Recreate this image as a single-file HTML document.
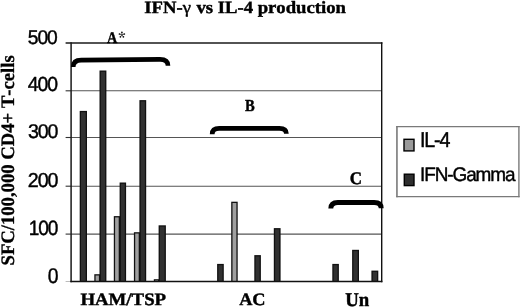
<!DOCTYPE html><html><head><meta charset="utf-8"><style>html,body{margin:0;padding:0;background:#fff;width:520px;height:307px;overflow:hidden}svg{display:block;filter:grayscale(1)}text{text-rendering:geometricPrecision;font-kerning:none;font-variant-ligatures:none}</style></head><body><svg width="520" height="307" viewBox="0 0 520 307"><rect width="520" height="307" fill="#fff"/><line x1="71.0" y1="234.10" x2="381.8" y2="234.10" stroke="#555" stroke-width="1.05"/><line x1="71.0" y1="186.20" x2="381.8" y2="186.20" stroke="#555" stroke-width="1.05"/><line x1="71.0" y1="137.50" x2="381.8" y2="137.50" stroke="#555" stroke-width="1.05"/><line x1="71.0" y1="90.80" x2="381.8" y2="90.80" stroke="#555" stroke-width="1.05"/><line x1="65.6" y1="234.10" x2="71.0" y2="234.10" stroke="#333" stroke-width="1.1"/><line x1="65.6" y1="186.20" x2="71.0" y2="186.20" stroke="#333" stroke-width="1.1"/><line x1="65.6" y1="137.50" x2="71.0" y2="137.50" stroke="#333" stroke-width="1.1"/><line x1="65.6" y1="90.80" x2="71.0" y2="90.80" stroke="#333" stroke-width="1.1"/><line x1="65.6" y1="281.5" x2="71.0" y2="281.5" stroke="#bbb" stroke-width="1.0"/><rect x="79.7" y="110.9" width="7.30" height="170.60" fill="#111"/><rect x="94.3" y="274.2" width="5.90" height="7.30" fill="#111"/><rect x="99.5" y="70.5" width="6.90" height="211.00" fill="#111"/><rect x="113.8" y="216.1" width="6.20" height="65.40" fill="#111"/><rect x="119.6" y="182.5" width="6.50" height="99.00" fill="#111"/><rect x="133.9" y="232.2" width="6.10" height="49.30" fill="#111"/><rect x="139.4" y="100.1" width="6.80" height="181.40" fill="#111"/><rect x="153.8" y="279.2" width="5.50" height="2.30" fill="#111"/><rect x="158.6" y="225.3" width="7.30" height="56.20" fill="#111"/><rect x="217.1" y="263.9" width="6.70" height="17.60" fill="#111"/><rect x="231.2" y="201.7" width="6.50" height="79.80" fill="#111"/><rect x="254.3" y="255.1" width="6.60" height="26.40" fill="#111"/><rect x="273.8" y="228.1" width="6.80" height="53.40" fill="#111"/><rect x="332.3" y="263.9" width="6.60" height="17.60" fill="#111"/><rect x="352.1" y="249.8" width="6.90" height="31.70" fill="#111"/><rect x="371.4" y="270.6" width="6.90" height="10.90" fill="#111"/><rect x="81.00" y="112.20" width="4.70" height="169.30" fill="#313131"/><rect x="95.60" y="275.50" width="3.30" height="6.00" fill="#a0a0a0"/><rect x="100.80" y="71.80" width="4.30" height="209.70" fill="#313131"/><rect x="115.10" y="217.40" width="3.60" height="64.10" fill="#a0a0a0"/><rect x="120.90" y="183.80" width="3.90" height="97.70" fill="#313131"/><rect x="135.20" y="233.50" width="3.50" height="48.00" fill="#a0a0a0"/><rect x="140.70" y="101.40" width="4.20" height="180.10" fill="#313131"/><rect x="155.10" y="280.50" width="2.90" height="1.00" fill="#a0a0a0"/><rect x="159.90" y="226.60" width="4.70" height="54.90" fill="#313131"/><rect x="218.40" y="265.20" width="4.10" height="16.30" fill="#313131"/><rect x="232.50" y="203.00" width="3.90" height="78.50" fill="#a0a0a0"/><rect x="255.60" y="256.40" width="4.00" height="25.10" fill="#313131"/><rect x="275.10" y="229.40" width="4.20" height="52.10" fill="#313131"/><rect x="333.60" y="265.20" width="4.00" height="16.30" fill="#313131"/><rect x="353.40" y="251.10" width="4.30" height="30.40" fill="#313131"/><rect x="372.70" y="271.90" width="4.30" height="9.60" fill="#313131"/><line x1="65.6" y1="43.0" x2="382.4" y2="43.0" stroke="#1a1a1a" stroke-width="1.4"/><line x1="71.1" y1="42.3" x2="71.1" y2="282.2" stroke="#1a1a1a" stroke-width="1.5"/><line x1="381.7" y1="42.3" x2="381.7" y2="282.2" stroke="#111" stroke-width="1.4"/><line x1="70.4" y1="281.5" x2="382.4" y2="281.5" stroke="#111" stroke-width="1.5"/><path d="M73.20,67.00 Q73.20,60.10 81.20,60.10 L160.00,59.40 Q168.00,59.40 168.00,65.80" fill="none" stroke="#000" stroke-width="4.6" stroke-linecap="butt"/><path d="M212.20,134.20 Q212.20,128.40 219.20,128.40 L279.40,128.40 Q286.40,128.40 286.40,133.80" fill="none" stroke="#000" stroke-width="4.7" stroke-linecap="butt"/><path d="M330.80,208.60 Q330.80,202.45 337.80,202.45 L374.20,202.45 Q381.20,202.45 381.20,208.30" fill="none" stroke="#000" stroke-width="4.9" stroke-linecap="butt"/><rect x="396.95" y="126.7" width="121.95" height="69.9" fill="#fff"/><line x1="396.95" y1="126.0" x2="396.95" y2="197.3" stroke="#5a5a5a" stroke-width="1.3"/><line x1="396.3" y1="126.7" x2="519.6" y2="126.7" stroke="#7a7a7a" stroke-width="1.3"/><line x1="518.9" y1="126.0" x2="518.9" y2="197.3" stroke="#7a7a7a" stroke-width="1.4"/><line x1="396.3" y1="196.6" x2="519.6" y2="196.6" stroke="#7a7a7a" stroke-width="1.4"/><rect x="404.0" y="139.3" width="10.0" height="11.6" fill="#9a9a9a" stroke="#000" stroke-width="1.4"/><rect x="404.3" y="174.2" width="9.7" height="11.4" fill="#2e2e2e" stroke="#000" stroke-width="1.4"/><text transform="matrix(1.0096,0,0,0.9329,144.30,13)" font-family="Liberation Serif" font-weight="bold" font-size="18.5" fill="#000" stroke="#000" stroke-width="0.45" stroke-linejoin="round"><tspan font-family="Liberation Serif" font-weight="bold">IFN-</tspan><tspan font-family="Liberation Serif" font-weight="normal">γ</tspan><tspan font-family="Liberation Serif" font-weight="bold" dx="0.8"> vs IL-4 production</tspan></text><text transform="matrix(0.9184,0,0,0.9463,27.85,44)" font-family="Liberation Sans" font-weight="normal" font-size="21" letter-spacing="-1.2" fill="#000" stroke="#000" stroke-width="0.45" stroke-linejoin="round">500</text><text transform="matrix(0.9239,0,0,0.9667,27.78,91)" font-family="Liberation Sans" font-weight="normal" font-size="21" letter-spacing="-1.2" fill="#000" stroke="#000" stroke-width="0.45" stroke-linejoin="round">400</text><text transform="matrix(0.9330,0,0,0.9463,27.94,138)" font-family="Liberation Sans" font-weight="normal" font-size="21" letter-spacing="-1.2" fill="#000" stroke="#000" stroke-width="0.45" stroke-linejoin="round">300</text><text transform="matrix(0.9362,0,0,0.9599,27.84,187)" font-family="Liberation Sans" font-weight="normal" font-size="21" letter-spacing="-1.2" fill="#000" stroke="#000" stroke-width="0.45" stroke-linejoin="round">200</text><text transform="matrix(0.9068,0,0,0.9872,28.77,235)" font-family="Liberation Sans" font-weight="normal" font-size="21" letter-spacing="-1.2" fill="#000" stroke="#000" stroke-width="0.45" stroke-linejoin="round">100</text><text transform="matrix(0.9214,0,0,1.0145,47.87,283)" font-family="Liberation Sans" font-weight="normal" font-size="21" fill="#000" stroke="#000" stroke-width="0.45" stroke-linejoin="round">0</text><text transform="matrix(0.8385,0,0,0.9690,106.89,43)" font-family="Liberation Serif" font-weight="bold" font-size="17" fill="#000" stroke="#000" stroke-width="0.45" stroke-linejoin="round">A</text><text transform="matrix(0.8551,0,0,0.9860,244.98,111)" font-family="Liberation Serif" font-weight="bold" font-size="17" fill="#000" stroke="#000" stroke-width="0.45" stroke-linejoin="round">B</text><text transform="matrix(0.9998,0,0,1.0417,349.80,184)" font-family="Liberation Serif" font-weight="bold" font-size="17" fill="#000" stroke="#000" stroke-width="0.45" stroke-linejoin="round">C</text><text transform="matrix(0.9901,0,0,0.9161,80.40,305)" font-family="Liberation Serif" font-weight="bold" font-size="19" fill="#000" stroke="#000" stroke-width="0.45" stroke-linejoin="round">HAM/TSP</text><text transform="matrix(0.9628,0,0,0.9122,239.15,305)" font-family="Liberation Serif" font-weight="bold" font-size="19" fill="#000" stroke="#000" stroke-width="0.45" stroke-linejoin="round">AC</text><text transform="matrix(0.9882,0,0,1.0269,345.16,306)" font-family="Liberation Serif" font-weight="bold" font-size="19" fill="#000" stroke="#000" stroke-width="0.45" stroke-linejoin="round">Un</text><text transform="matrix(0.9373,0,0,1.0227,419.91,147)" font-family="Liberation Sans" font-weight="normal" font-size="21" letter-spacing="-1.2" fill="#000" stroke="#000" stroke-width="0.45" stroke-linejoin="round">IL-4</text><text transform="matrix(0.9027,0,0,0.9394,419.98,181)" font-family="Liberation Sans" font-weight="normal" font-size="21" letter-spacing="-1.2" fill="#000" stroke="#000" stroke-width="0.45" stroke-linejoin="round">IFN-Gamma</text><line x1="121.9" y1="34.8" x2="121.90" y2="32.25" stroke="#222" stroke-width="0.75"/><circle cx="121.90" cy="32.25" r="0.85" fill="#111"/><line x1="121.9" y1="34.8" x2="124.33" y2="34.01" stroke="#222" stroke-width="0.75"/><circle cx="124.33" cy="34.01" r="0.85" fill="#111"/><line x1="121.9" y1="34.8" x2="123.40" y2="36.86" stroke="#222" stroke-width="0.75"/><circle cx="123.40" cy="36.86" r="0.85" fill="#111"/><line x1="121.9" y1="34.8" x2="120.40" y2="36.86" stroke="#222" stroke-width="0.75"/><circle cx="120.40" cy="36.86" r="0.85" fill="#111"/><line x1="121.9" y1="34.8" x2="119.47" y2="34.01" stroke="#222" stroke-width="0.75"/><circle cx="119.47" cy="34.01" r="0.85" fill="#111"/><text transform="matrix(0,-0.9824,1,0,14.2,265.49)" font-family="Liberation Serif" font-weight="bold" font-size="19" fill="#000" stroke="#000" stroke-width="0.3" stroke-linejoin="round">SFC/100,000 CD4+ T-cells</text></svg></body></html>
